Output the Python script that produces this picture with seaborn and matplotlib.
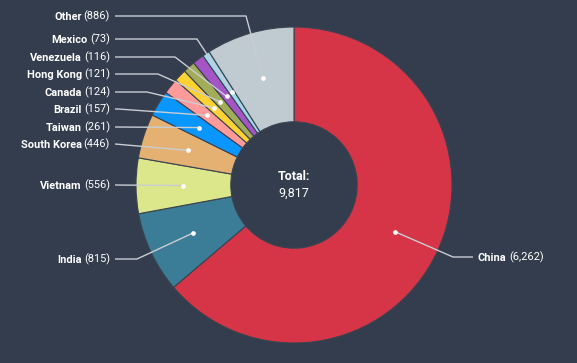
import matplotlib
matplotlib.use("Agg")
import matplotlib.pyplot as plt
import numpy as np
import seaborn as sns

# Data (clockwise from 12 o'clock)
countries = ["China", "India", "Vietnam", "South Korea", "Taiwan", "Brazil",
             "Canada", "Hong Kong", "Venezuela", "Mexico", "Other"]
counts = [6262, 815, 556, 446, 261, 157, 124, 121, 116, 73, 886]
slice_colors = ["#d63447", "#3b7c96", "#dce68a", "#e4b172", "#0a96ff", "#ff9a9a",
                "#ffd233", "#a2ad5a", "#a655c6", "#9fd9ec", "#bfcbd0"]

# Label layout in pixels (figure is 577x363, pie centre at 294,185, radius 158)
label_y_px = [257, 259, 185, 144, 127, 109, 92, 74, 57, 39, 16]
elbow_x_px = [453, 137, 115, 115, 115, 118, 147, 158, 175, 197, 246]

BG = "#333d4d"
CX, CY, R = 294, 185, 158

sns.set_style("dark", {"axes.facecolor": BG, "figure.facecolor": BG})
plt.rcParams["font.family"] = ["Roboto", "DejaVu Sans"]


def px(x, y):
    # pixel position (from top-left) -> data coords (unit radius pie)
    return (x - CX) / R, (CY - y) / R


fig = plt.figure(figsize=(5.77, 3.63), dpi=100)
ax = fig.add_axes([0, 0, 1, 1])
wedges, _ = ax.pie(counts, colors=slice_colors, startangle=90, counterclock=False,
                   radius=1, wedgeprops=dict(width=0.6, edgecolor="#3b4350", linewidth=0.8))
ax.set_xlim(-CX / R, (577 - CX) / R)
ax.set_ylim(-(363 - CY) / R, CY / R)
ax.set_aspect("equal")
ax.axis("off")

line_kw = dict(color="#c9cdd3", lw=1, solid_capstyle="butt", zorder=3)
text_kw = dict(color="white", fontsize=7.9, va="bottom")
drop = 6.2 / R  # bottom of text box sits below the cap-height centre

for i, (w, name, val) in enumerate(zip(wedges, countries, counts)):
    mid = np.deg2rad((w.theta1 + w.theta2) / 2)
    dx, dy = 0.705 * np.cos(mid), 0.705 * np.sin(mid)
    ex, ey = px(elbow_x_px[i], label_y_px[i])
    value_str = f"({val:,})"
    if dx > 0:
        sx, _ = px(473, 0)
        ax.plot([dx, ex, sx], [dy, ey, ey], **line_kw)
        tx, ty = px(478, label_y_px[i])
        nt = ax.text(tx, ty - drop, name, ha="left", fontweight="bold", **text_kw)
        ax.annotate(value_str, xy=(1, 0), xycoords=nt, xytext=(1.6, 0),
                    textcoords="offset points", ha="left", **text_kw)
    else:
        sx, _ = px(115, 0)
        ax.plot([dx, ex, sx], [dy, ey, ey], **line_kw)
        tx, ty = px(110, label_y_px[i])
        vt = ax.text(tx, ty - drop, value_str, ha="right", **text_kw)
        ax.annotate(name, xy=(0, 0), xycoords=vt, xytext=(-1.6, 0),
                    textcoords="offset points", ha="right", fontweight="bold", **text_kw)
    ax.plot(dx, dy, "o", ms=3.4, color="white", mec="none", zorder=4)

total = sum(counts)
ax.text(0, px(0, 176)[1], "Total:", ha="center", va="center", color="white",
        fontsize=9, fontweight="bold")
ax.text(0, px(0, 193)[1], f"{total:,}", ha="center", va="center", color="white",
        fontsize=9)

fig.savefig("out.png", dpi=100, facecolor=BG)
